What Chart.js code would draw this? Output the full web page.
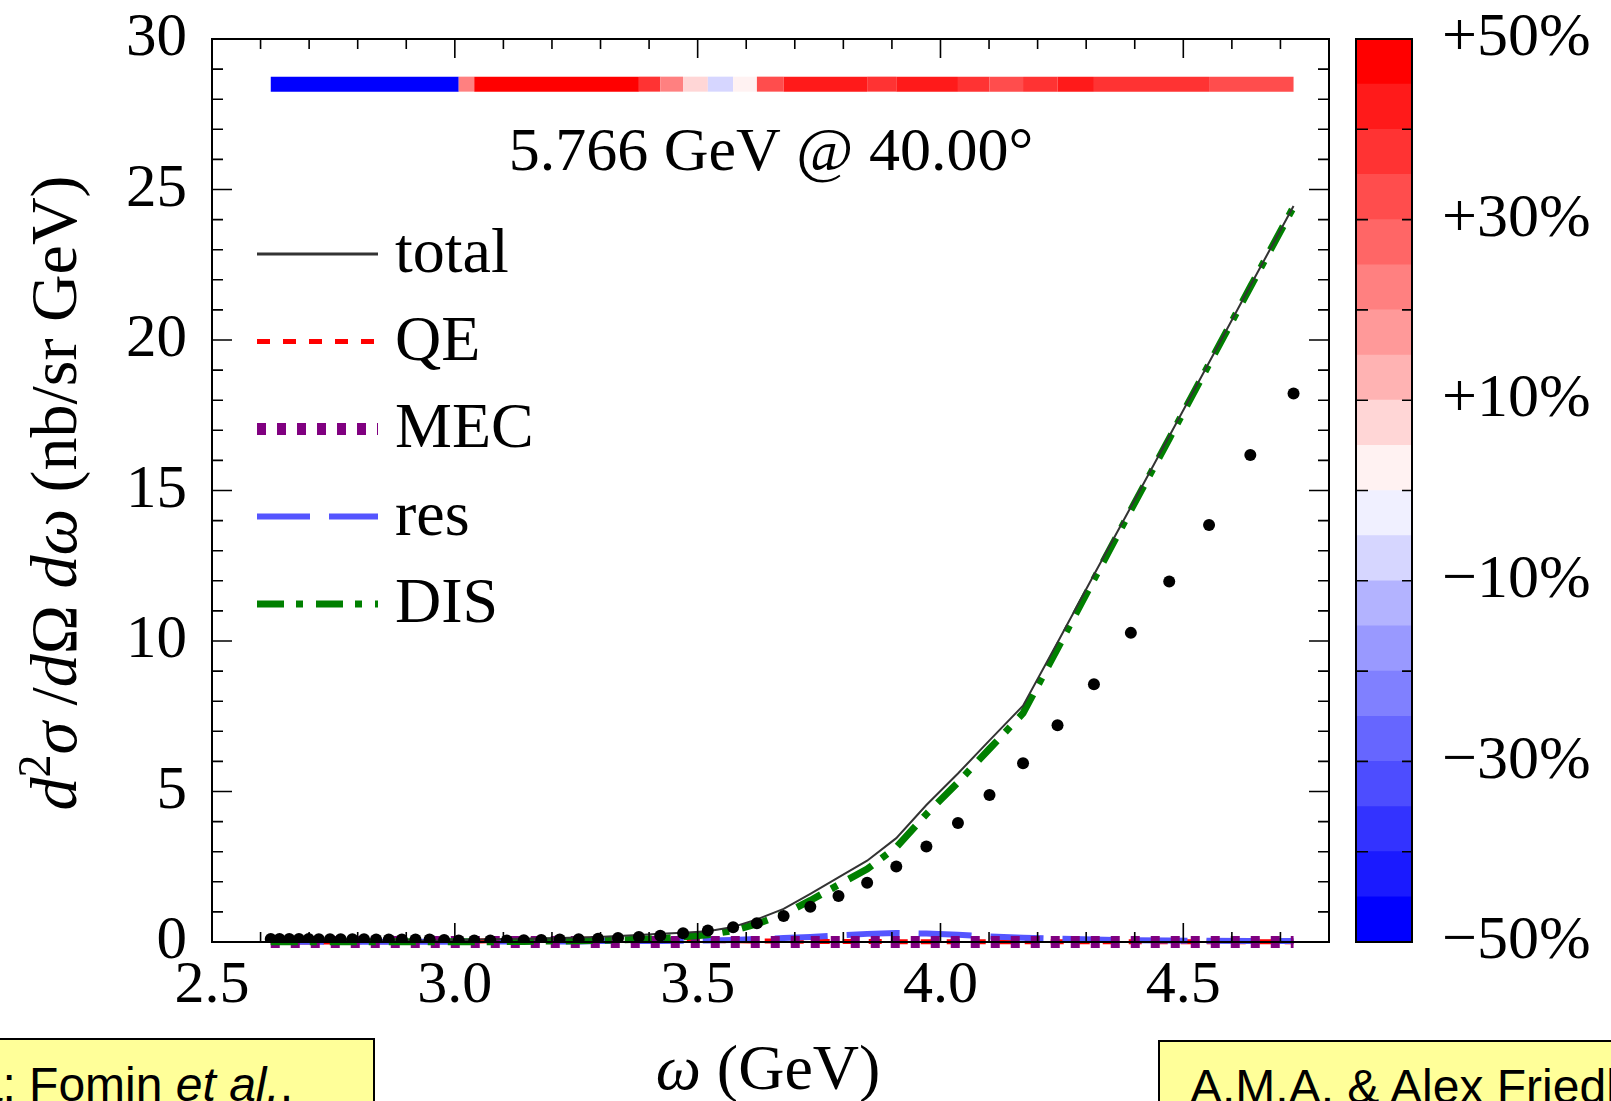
<!DOCTYPE html>
<html>
<head>
<meta charset="utf-8">
<script src="https://cdn.jsdelivr.net/npm/chart.js@4.4.1/dist/chart.umd.min.js"></script>
<style>
  html, body { margin: 0; padding: 0; background: #fff; }
  body { width: 1611px; height: 1101px; position: relative; overflow: hidden; }
  #main { position: absolute; left: 0; top: 0; }
  #cbar { position: absolute; left: 1340px; top: 0; }
  .note {
    position: absolute; background: #ffff99; border: 2px solid #000;
    font-family: "Liberation Sans", Arial, sans-serif; font-size: 48px; line-height: 48px;
    color: #000; white-space: nowrap; box-sizing: border-box; padding-top: 21px;
  }
</style>
</head>
<body>
<canvas id="main" width="1611" height="1101"></canvas>
<canvas id="cbar" width="271" height="1101"></canvas>
<div class="note" style="left:-200px; top:1038px; width:575px; height:100px; padding-left:99px;">Data: Fomin <i>et al.</i>,</div>
<div class="note" style="left:1158px; top:1040px; width:640px; height:100px; padding-left:30px;">A.M.A. &amp; Alex Friedland</div>

<script>
// omega (GeV) of each data point
const omega = [2.621, 2.639, 2.659, 2.679, 2.699, 2.720, 2.743, 2.765, 2.789, 2.813,
               2.838, 2.864, 2.891, 2.919, 2.948, 2.978, 3.008, 3.040, 3.073, 3.107,
               3.142, 3.178, 3.216, 3.255, 3.295, 3.336, 3.379, 3.423, 3.470, 3.521,
               3.573, 3.622, 3.677, 3.732, 3.790, 3.849, 3.909, 3.971, 4.036, 4.101,
               4.170, 4.241, 4.316, 4.392, 4.471, 4.553, 4.638, 4.727]

// measured cross section (black dots)
const measured = [0.10, 0.10, 0.10, 0.10, 0.10, 0.09, 0.09, 0.09, 0.09, 0.09,
                  0.08, 0.08, 0.08, 0.08, 0.08, 0.07, 0.05, 0.05, 0.05, 0.05,
                  0.06, 0.07, 0.08, 0.09, 0.11, 0.13, 0.17, 0.21, 0.29, 0.38,
                  0.49, 0.62, 0.86, 1.17, 1.53, 1.97, 2.51, 3.17, 3.95, 4.88,
                  5.94, 7.20, 8.56, 10.27, 11.98, 13.85, 16.18, 18.22]

// model curves
const total = [0.04, 0.04, 0.04, 0.04, 0.04, 0.04, 0.04, 0.04, 0.04, 0.04,
               0.04, 0.04, 0.04, 0.04, 0.045, 0.05, 0.06, 0.08, 0.09, 0.10,
               0.11, 0.12, 0.13, 0.15, 0.17, 0.20, 0.23, 0.27, 0.31, 0.36,
               0.50, 0.75, 1.10, 1.60, 2.15, 2.70, 3.45, 4.55, 5.60, 6.70,
               7.85, 9.95, 12.20, 14.45, 16.80, 19.25, 21.80, 24.45]
const qe = [0.00, 0.00, 0.00, 0.00, 0.00, 0.00, 0.00, 0.01, 0.01, 0.01,
            0.01, 0.01, 0.01, 0.01, 0.01, 0.01, 0.02, 0.03, 0.04, 0.05,
            0.06, 0.07, 0.08, 0.09, 0.09, 0.09, 0.08, 0.07, 0.06, 0.05,
            0.04, 0.03, 0.03, 0.02, 0.02, 0.02, 0.01, 0.01, 0.01, 0.01,
            0.01, 0.01, 0.01, 0.01, 0.01, 0.01, 0.01, 0.01]
const mec = [0.00, 0.00, 0.00, 0.00, 0.00, 0.00, 0.00, 0.00, 0.00, 0.00,
             0.00, 0.00, 0.00, 0.00, 0.00, 0.00, 0.00, 0.00, 0.00, 0.00,
             0.00, 0.00, 0.00, 0.00, 0.00, 0.00, 0.00, 0.00, 0.00, 0.00,
             0.00, 0.00, 0.00, 0.00, 0.00, 0.00, 0.00, 0.00, 0.00, 0.00,
             0.00, 0.00, 0.00, 0.00, 0.00, 0.00, 0.00, 0.00]
const res = [0.01, 0.01, 0.01, 0.01, 0.01, 0.01, 0.01, 0.01, 0.01, 0.01,
             0.01, 0.01, 0.01, 0.01, 0.01, 0.01, 0.02, 0.02, 0.02, 0.02,
             0.02, 0.02, 0.02, 0.02, 0.03, 0.03, 0.03, 0.03, 0.04, 0.05,
             0.07, 0.10, 0.13, 0.17, 0.22, 0.27, 0.30, 0.28, 0.24, 0.18,
             0.14, 0.11, 0.08, 0.06, 0.05, 0.04, 0.03, 0.03]
const dis = [0.01, 0.01, 0.01, 0.01, 0.01, 0.01, 0.01, 0.01, 0.01, 0.01,
             0.01, 0.01, 0.01, 0.01, 0.01, 0.01, 0.01, 0.01, 0.01, 0.02,
             0.02, 0.03, 0.03, 0.04, 0.05, 0.07, 0.09, 0.12, 0.17, 0.24,
             0.38, 0.60, 0.92, 1.38, 1.90, 2.42, 3.15, 4.25, 5.30, 6.42,
             7.60, 9.75, 12.05, 14.35, 16.72, 19.20, 21.76, 24.42]

// (model - data)/data in %, shown as the coloured strip
const deviation = [-50, -50, -50, -50, -50, -50, -50, -50, -50, -50,
                   -50, -50, -50, -50, -50, -50, 24, 50, 50, 50,
                   50, 50, 50, 50, 50, 50, 38, 22, 8, -7,
                   2, 32, 42, 42, 42, 37, 42, 42, 37, 32,
                   37, 42, 37, 37, 37, 32, 32, 32]

const xTickLabels = [2.5, 3.0, 3.5, 4.0, 4.5]
const yTickLabels = [0, 5, 10, 15, 20, 25, 30]

// colour bar
const bandEdges = [-50, -45, -40, -35, -30, -25, -20, -15, -10, -5, 0,
                   5, 10, 15, 20, 25, 30, 35, 40, 45, 50]
const bandColors = ['#0000ff', '#1a1aff', '#3333ff', '#4d4dff', '#6666ff',
                    '#8080ff', '#9999ff', '#b3b3ff', '#d6d6ff', '#f0f0ff',
                    '#fff2f2', '#ffd6d6', '#ffb3b3', '#ff9999', '#ff8080',
                    '#ff6666', '#ff4d4d', '#ff3333', '#ff1a1a', '#ff0000']
const cbarTickValues = [-50, -30, -10, 10, 30, 50]
const cbarTickLabels = ['\u221250%', '\u221230%', '\u221210%', '+10%', '+30%', '+50%']

const SERIF = '"Liberation Serif", "Times New Roman", serif'
const STRIP_Y = 28.5

function pts(ys) {
    return omega.map((x, i) => ({x: x, y: ys[i]}))
}

function bandColor(v) {
    for (let k = 0; k < bandColors.length; k++) {
        if (v < bandEdges[k + 1]) return bandColors[k]
    }
    return bandColors[bandColors.length - 1]
}

// keep label overhang from pushing the plot box around
function noOverhang(s) {
    s.paddingTop = 0; s.paddingBottom = 0
    s.paddingLeft = 0; s.paddingRight = 0
}

const curveBase = {showLine: true, pointRadius: 0, tension: 0, clip: 12, borderCapStyle: 'butt'}

const datasets = [
    {label: 'strip', data: omega.map(x => ({x: x, y: STRIP_Y})), showLine: true, pointRadius: 0,
     borderWidth: 15, borderColor: '#f00', borderCapStyle: 'butt', order: 0,
     segment: {borderColor: c => bandColor(deviation[c.p0DataIndex])}},
    {label: 'data', data: pts(measured), showLine: false, pointRadius: 6,
     backgroundColor: '#000', borderWidth: 0, order: 1},
    Object.assign({label: 'total', data: pts(total), borderColor: '#333', borderWidth: 2, order: 2}, curveBase),
    Object.assign({label: 'DIS', data: pts(dis), borderColor: '#008000', borderWidth: 7,
                   borderDash: [27, 12, 7, 13], order: 3}, curveBase),
    Object.assign({label: 'MEC', data: pts(mec), borderColor: '#800080', borderWidth: 12,
                   borderDash: [9, 11], order: 4}, curveBase),
    Object.assign({label: 'res', data: pts(res), borderColor: '#5555ff', borderWidth: 6,
                   borderDash: [53, 19], order: 5}, curveBase),
    Object.assign({label: 'QE', data: pts(qe), borderColor: '#ff0000', borderWidth: 5,
                   borderDash: [13, 13], order: 6}, curveBase)
]

const legendOrder = ['total', 'QE', 'MEC', 'res', 'DIS']

function drawRich(ctx, segs, cx, y, size) {
    const fontFor = s => {
        if (s.style === 'italic') return 'italic ' + size + 'px ' + SERIF
        if (s.style === 'sup') return Math.round(size * 0.7) + 'px ' + SERIF
        return size + 'px ' + SERIF
    }
    let w = 0
    segs.forEach(s => { ctx.font = fontFor(s); w += ctx.measureText(s.t).width })
    let x = cx - w / 2
    ctx.textAlign = 'left'
    ctx.textBaseline = 'alphabetic'
    segs.forEach(s => {
        ctx.font = fontFor(s)
        ctx.fillText(s.t, x, s.style === 'sup' ? y - size * 0.4 : y)
        x += ctx.measureText(s.t).width
    })
}

// box, inward ticks, labels and legend drawn onto the main chart
const decorations = {
    id: 'decorations',
    afterDraw(chart) {
        const ctx = chart.ctx
        const a = chart.chartArea
        const xs = chart.scales.x, ys = chart.scales.y
        ctx.save()
        ctx.strokeStyle = '#000'
        ctx.lineWidth = 2
        ctx.strokeRect(a.left, a.top, a.right - a.left, a.bottom - a.top)
        ctx.lineWidth = 1.6
        ctx.beginPath()
        for (let k = 25; k <= 48; k++) {
            const px = xs.getPixelForValue(k / 10)
            const len = k % 5 === 0 ? 19 : 10
            ctx.moveTo(px, a.bottom); ctx.lineTo(px, a.bottom - len)
            ctx.moveTo(px, a.top); ctx.lineTo(px, a.top + len)
        }
        for (let v = 0; v <= 30; v++) {
            const py = ys.getPixelForValue(v)
            const len = v % 5 === 0 ? 20 : 11
            ctx.moveTo(a.left, py); ctx.lineTo(a.left + len, py)
            ctx.moveTo(a.right, py); ctx.lineTo(a.right - len, py)
        }
        ctx.stroke()

        // title inside the frame
        ctx.fillStyle = '#000'
        ctx.font = '62px ' + SERIF
        ctx.textAlign = 'center'
        ctx.textBaseline = 'alphabetic'
        ctx.fillText('5.766 GeV @ 40.00\u00b0', 771, 170)

        // legend
        legendOrder.forEach((name, i) => {
            const ds = chart.data.datasets.find(d => d.label === name)
            const y = 254 + i * 87.5
            ctx.save()
            ctx.strokeStyle = ds.borderColor
            ctx.lineWidth = name === 'total' ? 3 : ds.borderWidth
            ctx.setLineDash(ds.borderDash || [])
            ctx.lineCap = 'butt'
            ctx.beginPath()
            ctx.moveTo(257, y); ctx.lineTo(378, y)
            ctx.stroke()
            ctx.restore()
            ctx.font = '64px ' + SERIF
            ctx.textAlign = 'left'
            ctx.fillText(name, 395, y + 18)
        })

        // axis titles
        drawRich(ctx, [{t: '\u03c9', style: 'italic'}, {t: ' (GeV)', style: 'normal'}], 768, 1089, 64)
        ctx.save()
        ctx.translate(76, 493)
        ctx.rotate(-Math.PI / 2)
        drawRich(ctx, [
            {t: 'd', style: 'italic'}, {t: '2', style: 'sup'}, {t: '\u03c3', style: 'italic'},
            {t: ' /', style: 'normal'}, {t: 'd', style: 'italic'}, {t: '\u03a9', style: 'normal'},
            {t: ' d', style: 'italic'}, {t: '\u03c9', style: 'italic'},
            {t: ' (nb/sr GeV)', style: 'normal'}
        ], 0, 0, 66)
        ctx.restore()
        ctx.restore()
    }
}

new Chart(document.getElementById('main'), {
    type: 'scatter',
    data: {datasets: datasets},
    options: {
        responsive: false,
        animation: false,
        devicePixelRatio: 1,
        layout: {padding: {left: 0, right: 282, top: 39, bottom: 0}},
        plugins: {legend: {display: false}, tooltip: {enabled: false}},
        scales: {
            x: {
                type: 'linear', min: 2.5, max: 4.8,
                grid: {display: false}, border: {display: false},
                afterBuildTicks: s => { s.ticks = xTickLabels.map(v => ({value: v})) },
                afterFit: s => { s.height = 159; noOverhang(s) },
                ticks: {
                    color: '#000', padding: 0, maxRotation: 0, autoSkip: false,
                    font: {family: SERIF, size: 60},
                    callback: v => Number(v).toFixed(1)
                }
            },
            y: {
                min: 0, max: 30,
                grid: {display: false}, border: {display: false},
                afterBuildTicks: s => { s.ticks = yTickLabels.map(v => ({value: v})) },
                afterFit: s => { s.width = 212; noOverhang(s) },
                ticks: {
                    color: '#000', padding: 17,
                    font: {family: SERIF, size: 61},
                    callback: v => String(v)
                }
            }
        }
    },
    plugins: [decorations]
})

// colour bar
const cbarFrame = {
    id: 'cbarFrame',
    afterDraw(chart) {
        const ctx = chart.ctx
        const a = chart.chartArea
        const ys = chart.scales.y
        ctx.save()
        ctx.strokeStyle = '#000'
        ctx.lineWidth = 1.6
        ctx.beginPath()
        for (let v = -40; v <= 40; v += 10) {
            const py = ys.getPixelForValue(v)
            ctx.moveTo(a.left, py); ctx.lineTo(a.left + 12, py)
            ctx.moveTo(a.right, py); ctx.lineTo(a.right - 10, py)
        }
        ctx.stroke()
        ctx.lineWidth = 2
        ctx.strokeRect(a.left, a.top, a.right - a.left, a.bottom - a.top)
        ctx.restore()
    }
}

new Chart(document.getElementById('cbar'), {
    type: 'bar',
    data: {
        labels: [''],
        datasets: bandColors.map((c, k) => ({
            data: [[bandEdges[k], bandEdges[k + 1]]],
            backgroundColor: c, borderWidth: 0, grouped: false,
            barPercentage: 1, categoryPercentage: 1
        }))
    },
    options: {
        responsive: false,
        animation: false,
        devicePixelRatio: 1,
        layout: {padding: {left: 16, right: 0, top: 39, bottom: 159}},
        plugins: {legend: {display: false}, tooltip: {enabled: false}},
        scales: {
            x: {display: false},
            y: {
                position: 'right', min: -50, max: 50,
                grid: {display: false}, border: {display: false},
                afterBuildTicks: s => { s.ticks = cbarTickValues.map(v => ({value: v})) },
                afterFit: s => { s.width = 199; noOverhang(s) },
                ticks: {
                    color: '#000', padding: 22,
                    font: {family: SERIF, size: 62},
                    callback: v => cbarTickLabels[cbarTickValues.indexOf(v)]
                }
            }
        }
    },
    plugins: [cbarFrame]
})
</script>
</body>
</html>
